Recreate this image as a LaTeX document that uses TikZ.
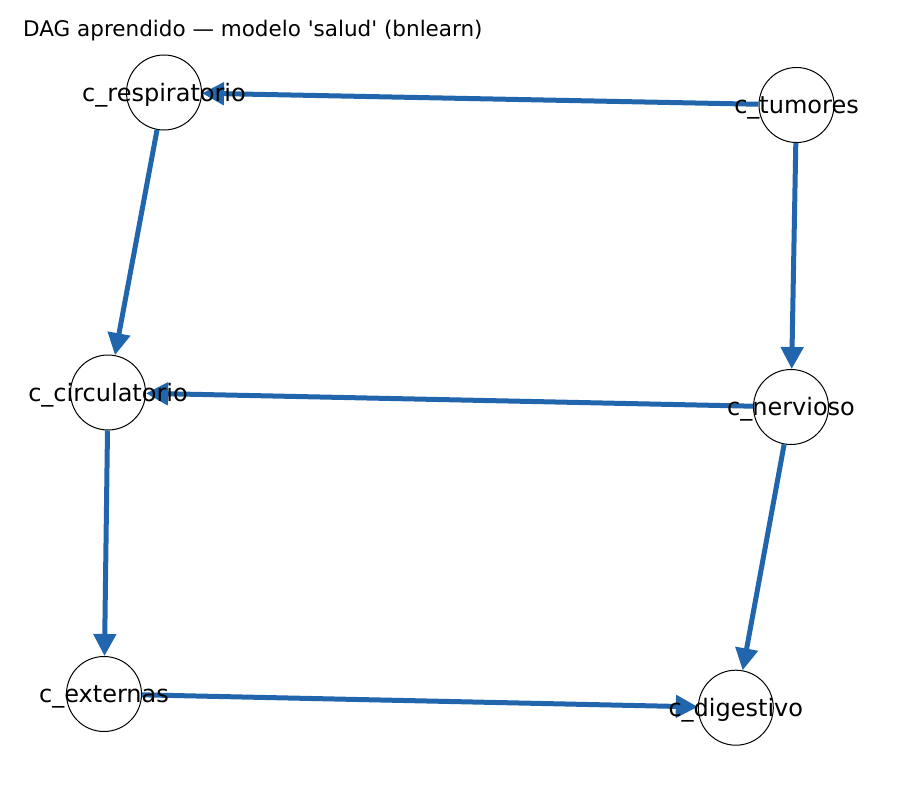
\documentclass[tikz,border=0pt]{standalone}
\usepackage{fontspec}
\setmainfont{DejaVu Sans}[Ligatures=TeXOff]
\usetikzlibrary{arrows.meta}
\definecolor{edgeblue}{RGB}{33,102,172}
\tikzset{
  vnode/.style={circle, draw=black, line width=1pt, fill=white, minimum size=75pt, inner sep=0pt},
  vlabel/.style={inner sep=0pt, yshift=-2.5pt, font=\fontsize{24}{28}\selectfont, text=black},
  edge/.style={draw=edgeblue, line width=5pt, -{Triangle[length=22pt,width=22pt]}, shorten >=0pt},
}
\begin{document}
\begin{tikzpicture}[x=1pt,y=-1pt]
\useasboundingbox (0,0) rectangle (900,800);
\node[anchor=base west, inner sep=0pt, font=\fontsize{21.5}{25}\selectfont] (title) at (23,37) {DAG aprendido — modelo 'salud' (bnlearn)};
\node[vnode] (resp) at (164,92.5) {};
\node[vnode] (tum) at (796.5,105) {};
\node[vnode] (circ) at (108,392.5) {};
\node[vnode] (nerv) at (791,407) {};
\node[vnode] (ext) at (104,694) {};
\node[vnode] (dig) at (735.8,707.7) {};
\draw[edge] (tum) -- (resp);
\draw[edge] (resp) -- (circ);
\draw[edge] (tum) -- (nerv);
\draw[edge] (nerv) -- (circ);
\draw[edge] (circ) -- (ext);
\draw[edge] (nerv) -- (dig);
\draw[edge] (ext) -- (dig);
\node[vlabel] (lresp) at (resp) {c\_respiratorio};
\node[vlabel] (ltum) at (tum) {c\_tumores};
\node[vlabel] (lcirc) at (circ) {c\_circulatorio};
\node[vlabel] (lnerv) at (nerv) {c\_nervioso};
\node[vlabel] (lext) at (ext) {c\_externas};
\node[vlabel] (ldig) at (dig) {c\_digestivo};
\end{tikzpicture}
\end{document}
